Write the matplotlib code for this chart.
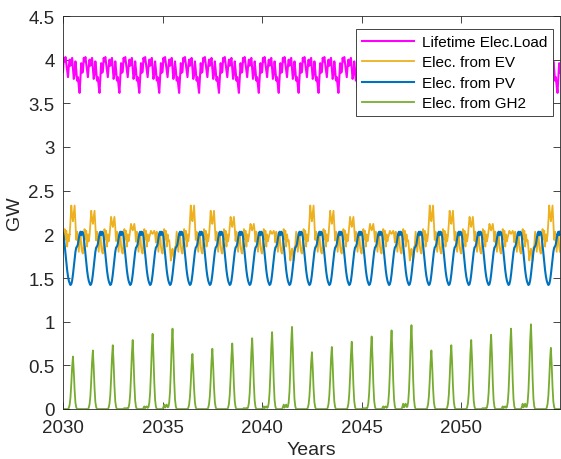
import numpy as np
import matplotlib
matplotlib.use("Agg")
import matplotlib.pyplot as plt
from matplotlib.ticker import FormatStrFormatter

# time axis: 24 samples per year, 2030 .. end of 2054
years = np.arange(2030, 2055)
steps_per_year = 24

# one-year profiles (repeat every year)
load_profile = [3.86, 4.02, 3.98, 4.03, 3.95, 3.88, 3.80, 3.92, 4.00, 3.93, 3.97, 4.02,
                3.90, 3.78, 3.83, 3.98, 3.88, 3.76, 3.80, 3.70, 3.62, 3.78, 3.96, 3.85]
pv_profile = [2.02, 1.97, 1.88, 1.78, 1.68, 1.59, 1.52, 1.47, 1.44, 1.42, 1.43, 1.47,
              1.54, 1.63, 1.72, 1.80, 1.85, 1.86, 1.89, 1.95, 2.01, 2.03, 1.99, 2.03]
ev_base = [1.78, 1.92, 2.06, 1.94, 2.04, 1.86, 2.00, 1.92, 1.96, 1.97, 1.97, 1.97,
           1.97, 1.97, 1.97, 1.97, 1.90, 2.03, 1.92, 1.80, 1.96, 2.02, 1.86, 1.80]
ev_bump = [0, 0, 0, 0, 0, 0, 0, 0, 0.1, 0.5, 1.0, 0.7,
           0.5, 0.75, 1.0, 0.45, 0.1, 0, 0, 0, 0, 0, 0, 0]
gh2_shape = [0, 0, 0, 0, 0, 0, 0, 0.02, 0.08, 0.22, 0.48, 0.80,
             1.0, 0.72, 0.36, 0.12, 0.03, 0, 0, 0, 0, 0, 0, 0]
gh2_wiggle = [0, 0.4, 1.0, 0.3, 0.8, 1.0, 0.4, 0.1, 0, 0, 0, 0,
              0, 0, 0, 0, 0, 0, 0, 0, 0, 0, 0, 0]

# per-year values
ev_peak_shift = [0.36, 0.30, 0.23, 0.15, 0.07, -0.27,
                 0.36, 0.30, 0.23, 0.15, 0.07, -0.27,
                 0.36, 0.30, 0.23, 0.15, 0.07, -0.27,
                 0.36, 0.30, 0.23, 0.15, 0.07, -0.27,
                 0.36]
gh2_peak = [0.60, 0.67, 0.73, 0.79, 0.86, 0.92,
            0.63, 0.69, 0.75, 0.81, 0.88, 0.94,
            0.65, 0.71, 0.77, 0.83, 0.90, 0.96,
            0.67, 0.73, 0.79, 0.85, 0.92, 0.97,
            0.70]
gh2_base = [0, 0, 0, 0.01, 0.03, 0.05,
            0, 0, 0, 0.01, 0.03, 0.05,
            0, 0, 0, 0.01, 0.03, 0.06,
            0, 0, 0, 0.01, 0.03, 0.06,
            0]

labels = ["Lifetime Elec.Load", "Elec. from EV", "Elec. from PV", "Elec. from GH2"]
colors = ["#FF00FF", "#EDB120", "#0072BD", "#77AC30"]

t = years[0] + np.arange(len(years) * steps_per_year) / steps_per_year
load = np.tile(load_profile, len(years))
pv = np.tile(pv_profile, len(years))
ev = np.concatenate([np.array(ev_base) + a * np.array(ev_bump) for a in ev_peak_shift])
gh2 = np.concatenate([p * np.array(gh2_shape) + b * np.array(gh2_wiggle)
                      for p, b in zip(gh2_peak, gh2_base)])

plt.rcParams['font.family'] = ['Liberation Sans', 'DejaVu Sans']
fig = plt.figure(figsize=(5.61, 4.60), dpi=100)
ax = fig.add_axes([63 / 561, 50 / 460, 497 / 561, 393 / 460])

ax.plot(t, load, color=colors[0], lw=1.5, label=labels[0])
ax.plot(t, ev, color=colors[1], lw=1.3, label=labels[1])
ax.plot(t, pv, color=colors[2], lw=1.5, label=labels[2])
ax.plot(t, gh2, color=colors[3], lw=1.3, label=labels[3])

ax.set_xlim(t[0], t[-1])
ax.set_ylim(0, 4.5)
ax.set_xticks([2030, 2035, 2040, 2045, 2050])
ax.set_yticks(np.arange(0, 4.51, 0.5))
ax.yaxis.set_major_formatter(FormatStrFormatter('%g'))
ax.tick_params(direction='in', top=True, right=True, length=5, width=0.6,
               colors='#262626', labelsize=13.5)
ax.tick_params(axis='x', pad=7)
ax.tick_params(axis='y', pad=6)
for s in ax.spines.values():
    s.set_linewidth(0.6)
    s.set_color('#262626')

ax.set_xlabel("Years", fontsize=14, color='#262626', labelpad=4)
ax.set_ylabel("GW", fontsize=14, color='#262626', labelpad=4)

leg = ax.legend(loc='upper right', bbox_to_anchor=(0.986, 0.967), borderaxespad=0,
                fancybox=False, edgecolor='#262626', framealpha=1, fontsize=11,
                handlelength=3.4, handletextpad=0.5, labelspacing=0.42,
                borderpad=0.4)
leg.get_frame().set_linewidth(0.6)

fig.savefig("out.png", dpi=100)
